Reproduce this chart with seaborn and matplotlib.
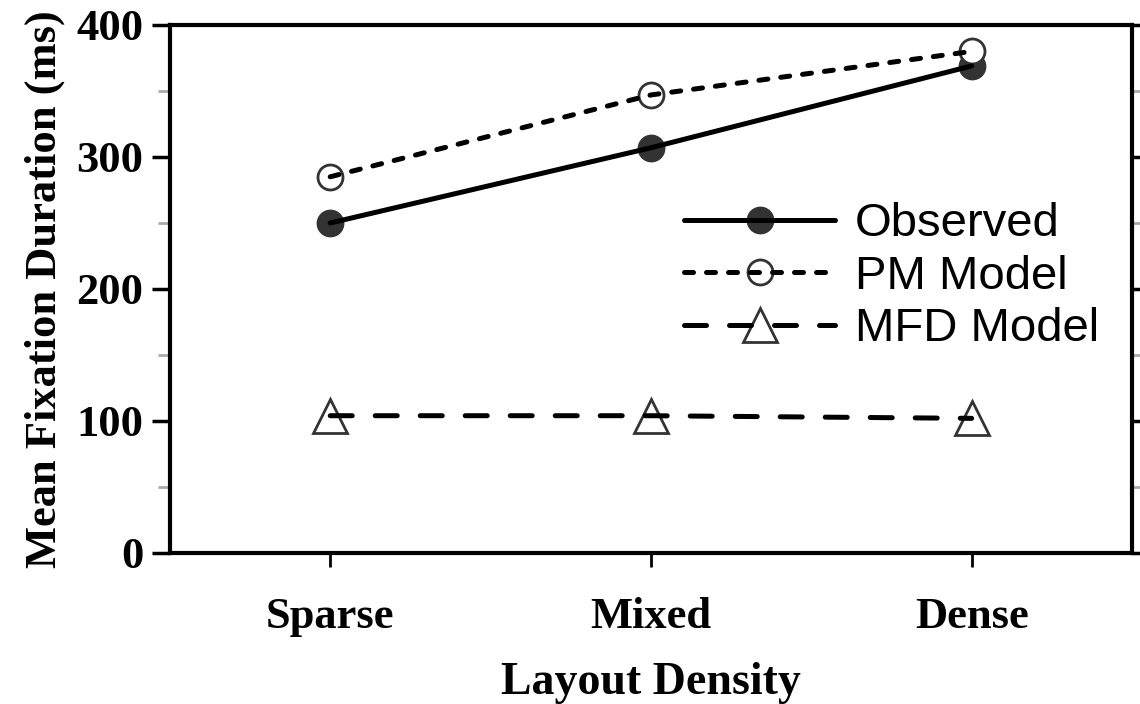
import numpy as np
import pandas as pd
import matplotlib
matplotlib.use("Agg")
import matplotlib.pyplot as plt
from matplotlib.legend_handler import HandlerTuple
from matplotlib.lines import Line2D
import seaborn as sns

# data
densities = ["Sparse", "Mixed", "Dense"]
observed = [250, 307, 369]
pm_model = [285, 347, 380]
mfd_model = [104, 104, 102]

sns.set_style("white")
plt.rcParams["font.family"] = ["Liberation Serif", "DejaVu Serif"]
plt.rcParams["text.color"] = "black"
plt.rcParams["axes.labelcolor"] = "black"
plt.rcParams["xtick.color"] = "black"
plt.rcParams["ytick.color"] = "black"

df = pd.DataFrame({"density": densities * 3,
                   "value": observed + pm_model + mfd_model,
                   "series": ["Observed"] * 3 + ["PM Model"] * 3 + ["MFD Model"] * 3})

fig = plt.figure(figsize=(11.4, 7.04), dpi=100)
ax = fig.add_axes([0.149, 0.2145, 0.844, 0.75])

lw = 3.6
styles = {
    "Observed": dict(ls="-", marker="o", fc="#333333", ms=18),
    "PM Model": dict(ls=(0, (1.8, 2.6)), marker="o", fc="white", ms=18),
    "MFD Model": dict(ls=(0, (4.4, 4.6)), marker="^", fc="white", ms=24),
}

handles = []
for name, st in styles.items():
    sub = df[df["series"] == name]
    # line over the marker, like the original
    sns.lineplot(data=sub, x="density", y="value", ax=ax, color="black",
                 linewidth=lw, linestyle=st["ls"], zorder=3, sort=False,
                 dash_capstyle="round", solid_capstyle="round")
    ax.plot(sub["density"], sub["value"], linestyle="none", marker=st["marker"],
            markersize=st["ms"], markerfacecolor=st["fc"],
            markeredgecolor="#333333", markeredgewidth=2, zorder=2)
    mk = Line2D([], [], linestyle="none", marker=st["marker"], markersize=st["ms"],
                markerfacecolor=st["fc"], markeredgecolor="#333333", markeredgewidth=2)
    ln = Line2D([], [], color="black", linewidth=lw, linestyle=st["ls"],
                dash_capstyle="round", solid_capstyle="round")
    handles.append((mk, ln))

ax.set_xlim(-0.5, 2.5)
ax.set_ylim(0, 400)
ax.set_yticks([0, 100, 200, 300, 400])
ax.set_yticks([50, 150, 250, 350], minor=True)

for s in ax.spines.values():
    s.set_linewidth(3)
    s.set_color("black")

ax.tick_params(axis="y", which="major", direction="out", length=13, width=2.5,
               left=True, right=True, labelsize=32, pad=6)
ax.tick_params(axis="y", which="minor", direction="out", length=9, width=2,
               left=True, right=True, color="#aaaaaa")
ax.tick_params(axis="x", which="major", direction="out", length=10, width=2,
               bottom=True, top=False, labelsize=32, pad=22)
for t in ax.get_xticklabels() + ax.get_yticklabels():
    t.set_fontweight("bold")

ax.set_xlabel("Layout Density", fontsize=33, fontweight="bold", labelpad=18)
ax.set_ylabel("Mean Fixation Duration (ms)", fontsize=32, fontweight="bold", labelpad=8)

ax.legend(handles, list(styles.keys()), handler_map={tuple: HandlerTuple(ndivide=1)},
          loc="upper left", bbox_to_anchor=(0.515, 0.7), frameon=False,
          prop={"family": "Liberation Sans", "size": 34},
          handlelength=3.2, handletextpad=0.42, labelspacing=0.18, borderaxespad=0)

fig.savefig("out.png", dpi=100)
